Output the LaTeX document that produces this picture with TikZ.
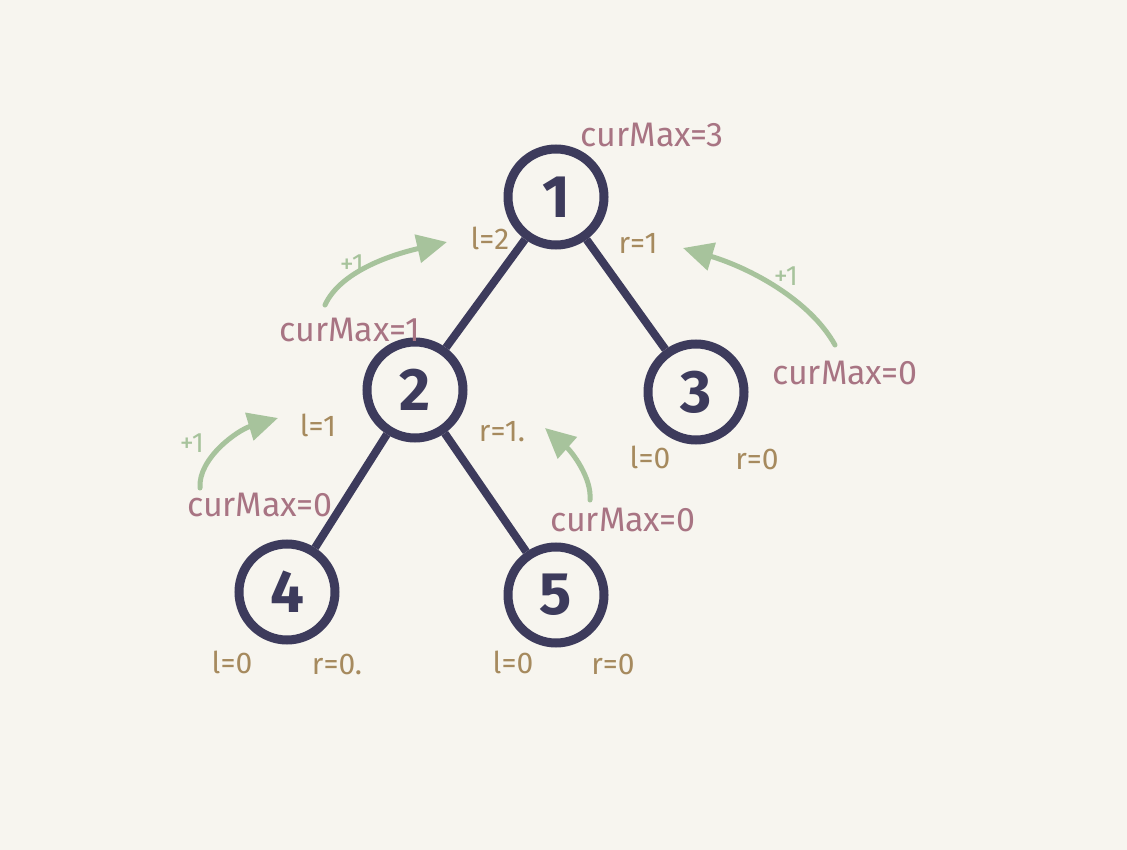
\documentclass[tikz,border=0pt]{standalone}
\usepackage{fontspec}
\setmainfont{Fira Sans}
\usetikzlibrary{arrows.meta}
\definecolor{bg}{HTML}{F7F5EF}
\definecolor{ink}{HTML}{3D3B5C}
\definecolor{pinkc}{HTML}{A87483}
\definecolor{brownc}{HTML}{A68A5E}
\definecolor{greenc}{HTML}{A7C39C}
\tikzset{
  treenode/.style={circle, draw=ink, line width=9pt, minimum size=96pt, inner sep=0pt, font=\fontsize{60}{60}\selectfont\bfseries, text=ink},
  treeedge/.style={draw=ink, line width=8pt},
  maxlabel/.style={text=pinkc, font=\fontsize{34}{36}\selectfont, inner sep=0pt},
  lrlabel/.style={text=brownc, font=\fontsize{30}{32}\selectfont, inner sep=0pt},
  pluslabel/.style={text=greenc, font=\fontsize{28}{30}\selectfont, inner sep=0pt},
  gar/.style={draw=greenc, line width=5pt, line cap=round, -{Triangle[length=30pt,width=28pt]}}
}
\begin{document}
\begin{tikzpicture}[x=1pt,y=-1pt]
\fill[bg] (0,0) rectangle (1127,850);
\node[treenode] (n1) at (556,197) {1};
\node[treenode] (n2) at (415,390) {2};
\node[treenode] (n3) at (696,392) {3};
\node[treenode] (n4) at (287,592) {4};
\node[treenode] (n5) at (556,595) {5};
\draw[treeedge] (n1) -- (n2);
\draw[treeedge] (n1) -- (n3);
\draw[treeedge] (n2) -- (n4);
\draw[treeedge] (n2) -- (n5);
% labels
\node[maxlabel] (c1) at (652,135) {curMax=3};
\node[maxlabel] (c2) at (350,330) {curMax=1};
\node[maxlabel] (c3) at (845,373) {curMax=0};
\node[maxlabel] (c4) at (260,505) {curMax=0};
\node[maxlabel] (c5) at (623,520) {curMax=0};
\node[lrlabel] (l1) at (490,238) {l=2};
\node[lrlabel] (r1) at (638,243) {r=1};
\node[lrlabel] (l2) at (318,425) {l=1};
\node[lrlabel] (r2) at (502,432) {r=1.};
\node[lrlabel] (l3) at (650,457) {l=0};
\node[lrlabel] (r3) at (757,459) {r=0};
\node[lrlabel] (l4) at (232,662) {l=0};
\node[lrlabel] (r4) at (337,664) {r=0.};
\node[lrlabel] (l5) at (513,662) {l=0};
\node[lrlabel] (r5) at (613,664) {r=0};
\node[pluslabel] (p1) at (352,264) {+1};
\node[pluslabel] (p2) at (786,276) {+1};
\node[pluslabel] (p3) at (192,443) {+1};
% arrows
\coordinate (a1s) at (325,305); \coordinate (a1e) at (447,242);
\coordinate (a2s) at (835,345); \coordinate (a2e) at (683,248);
\coordinate (a3s) at (200,488); \coordinate (a3e) at (278,418);
\coordinate (a4s) at (590,500); \coordinate (a4e) at (545,428);
\draw[gar] (a1s) .. controls (340,272) and (390,255) .. (a1e);
\draw[gar] (a2s) .. controls (810,300) and (750,268) .. (a2e);
\draw[gar] (a3s) .. controls (198,458) and (238,430) .. (a3e);
\draw[gar] (a4s) .. controls (592,478) and (572,452) .. (a4e);
\end{tikzpicture}
\end{document}
